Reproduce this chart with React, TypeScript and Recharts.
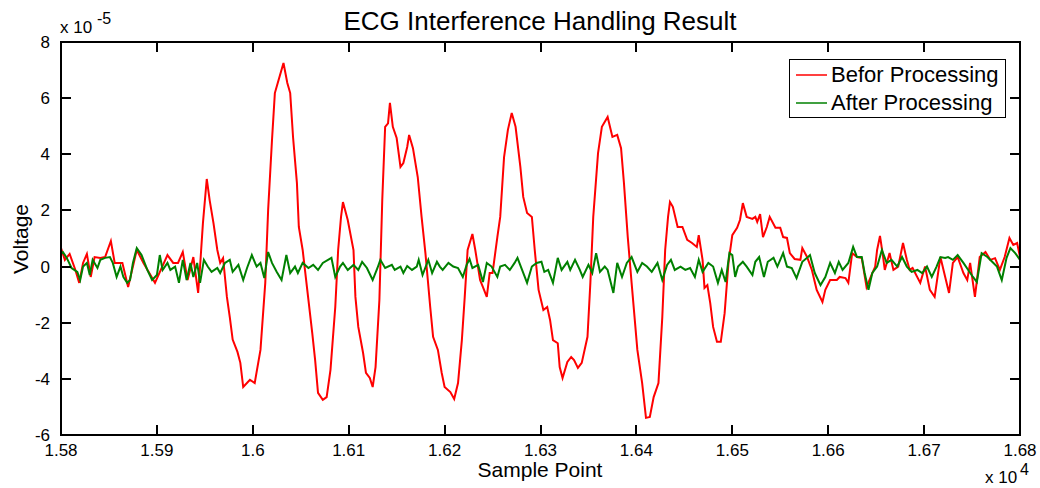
import React from 'react';
import { LineChart, Line, XAxis, YAxis } from 'recharts';

const FONT = '"Liberation Sans", Arial, sans-serif';

const xTicks = [15800, 15900, 16000, 16100, 16200, 16300, 16400, 16500, 16600, 16700, 16800];
const yTicks = [-6, -4, -2, 0, 2, 4, 6, 8];
const xDomain = [15800, 16800];
const yDomain = [-6, 8];

const seriesNames = ['Befor Processing', 'After Processing'];
const seriesColors = ['#ff0000', '#008000'];

// values in units of 1e-5 V, samples in raw index
const beforeSamples = [
  15800, 15804, 15809, 15815, 15819, 15823, 15827, 15831, 15835, 15841, 15846, 15852, 15856, 15864, 15870, 15879, 15886, 15898,
  15911, 15917, 15922, 15927, 15932, 15938, 15943, 15945, 15948, 15952, 15955, 15959, 15963, 15966, 15969, 15973, 15976, 15979,
  15984, 15987, 15990, 15997, 16002, 16008, 16013, 16016, 16020, 16023, 16026, 16032, 16036, 16039, 16042, 16046, 16048, 16052,
  16058, 16062, 16065, 16068, 16073, 16077, 16081, 16086, 16089, 16092, 16094, 16099, 16105, 16107, 16110, 16115, 16118, 16122,
  16125, 16128, 16132, 16135, 16138, 16141, 16143, 16146, 16150, 16154, 16157, 16161, 16163, 16167, 16172, 16176, 16180, 16185,
  16188, 16193, 16197, 16200, 16206, 16210, 16214, 16218, 16221, 16224, 16229, 16232, 16237, 16240, 16244, 16247, 16250, 16255,
  16258, 16262, 16266, 16270, 16274, 16279, 16282, 16286, 16291, 16294, 16298, 16303, 16307, 16310, 16313, 16318, 16320, 16323,
  16328, 16332, 16335, 16339, 16343, 16349, 16352, 16355, 16360, 16364, 16370, 16375, 16380, 16384, 16387, 16391, 16395, 16401,
  16406, 16410, 16414, 16418, 16423, 16427, 16430, 16433, 16435, 16438, 16443, 16448, 16453, 16458, 16463, 16465, 16469, 16471,
  16474, 16477, 16480, 16484, 16488, 16492, 16496, 16500, 16505, 16508, 16511, 16515, 16521, 16524, 16526, 16529, 16532, 16536,
  16539, 16545, 16550, 16553, 16557, 16560, 16565, 16571, 16573, 16578, 16583, 16588, 16594, 16597, 16602, 16609, 16612, 16618,
  16621, 16625, 16630, 16635, 16640, 16646, 16649, 16651, 16654, 16657, 16659, 16664, 16668, 16673, 16678, 16682, 16685, 16688,
  16696, 16701, 16706, 16711, 16717, 16722, 16726, 16730, 16735, 16741, 16745, 16748, 16753, 16758, 16764, 16769, 16774, 16779,
  16784, 16789, 16793, 16797, 16800,
];
const beforeValues = [
  0.66, 0.24, 0.45, -0.12, -0.58, 0.13, 0.45, -0.37, 0.34, 0.31, 0.34, 0.91, 0.13, 0.13, -0.73, 0.59, 0.13, -0.58,
  0.41, 0.13, 0.13, 0.52, -0.48, 0.34, -0.94, 0.0, 1.55, 3.12, 2.37, 1.55, 0.59, 0.13, 0.3, -1.08, -1.8, -2.6,
  -3.04, -3.43, -4.29, -4.03, -4.15, -2.97, -0.58, 2.02, 4.5, 6.18, 6.54, 7.25, 6.54, 6.18, 4.6, 2.98, 1.41, 0.59,
  -1.19, -2.37, -3.33, -4.5, -4.75, -4.65, -3.68, -1.44, 0.59, 1.77, 2.3, 1.66, 0.59, -1.08, -2.15, -3.08, -3.79, -3.97,
  -4.29, -3.58, -1.19, 2.37, 4.98, 5.1, 5.83, 4.98, 4.58, 3.55, 3.69, 4.26, 4.69, 4.22, 3.19, 1.77, 0.48, -1.44,
  -2.5, -2.97, -3.79, -4.29, -4.47, -4.72, -4.15, -2.62, -1.08, 0.59, 1.16, 0.59, -0.48, -0.73, -1.08, -0.23, -0.23, 1.05,
  1.77, 3.9, 4.87, 5.47, 4.98, 3.55, 2.48, 1.91, 1.77, 0.59, -0.83, -1.55, -1.44, -1.91, -2.62, -2.73, -3.58, -3.97,
  -3.4, -3.22, -3.33, -3.61, -3.43, -2.5, -0.58, 1.77, 4.04, 4.98, 5.33, 4.62, 4.69, 4.22, 2.98, 1.05, -0.58, -2.97,
  -4.15, -5.39, -5.36, -4.65, -4.15, -1.8, 0.59, 1.77, 2.3, 2.13, 1.41, 1.41, 0.95, 0.84, 0.7, 1.12, 0.24, -0.76,
  -0.66, -1.3, -2.15, -2.68, -2.68, -1.66, 0.13, 1.12, 1.38, 1.66, 2.26, 1.77, 1.7, 1.77, 1.59, 1.87, 1.05, 1.41,
  1.77, 1.38, 1.38, 1.05, 1.02, 0.48, 0.27, 0.24, 0.66, 0.34, -0.12, -0.83, -1.26, -0.83, -0.48, -0.48, -0.37, -0.41,
  -0.58, 0.48, 0.34, 0.3, -0.73, -0.23, 0.0, 0.59, 1.09, 0.41, -0.12, 0.48, -0.12, 0.0, 0.84, 0.24, -0.12, -0.05,
  -0.58, 0.0, -0.83, -1.08, 0.34, -0.37, -0.94, 0.13, 0.34, -0.23, -0.48, 0.13, -1.08, 0.34, 0.52, 0.24, 0.3, -0.12,
  0.34, 1.02, 0.77, 0.84, 0.34,
];

const afterSamples = [
  15800, 15802, 15806, 15811, 15817, 15820, 15823, 15827, 15830, 15833, 15838, 15841, 15846, 15851, 15854, 15858, 15862, 15865,
  15869, 15872, 15875, 15879, 15884, 15890, 15895, 15900, 15903, 15906, 15911, 15914, 15919, 15923, 15927, 15931, 15935, 15938,
  15942, 15945, 15949, 15953, 15957, 15963, 15966, 15971, 15976, 15979, 15985, 15990, 15994, 15999, 16004, 16008, 16012, 16016,
  16020, 16025, 16030, 16035, 16039, 16044, 16047, 16052, 16058, 16063, 16068, 16073, 16082, 16086, 16091, 16094, 16099, 16105,
  16110, 16114, 16119, 16125, 16130, 16133, 16138, 16145, 16148, 16154, 16157, 16161, 16166, 16171, 16173, 16177, 16183, 16187,
  16192, 16195, 16198, 16204, 16209, 16214, 16219, 16223, 16226, 16229, 16235, 16240, 16244, 16249, 16255, 16258, 16263, 16268,
  16273, 16276, 16280, 16286, 16291, 16296, 16301, 16304, 16308, 16313, 16318, 16322, 16328, 16331, 16336, 16341, 16344, 16350,
  16354, 16358, 16362, 16367, 16370, 16376, 16380, 16385, 16390, 16395, 16401, 16406, 16411, 16416, 16422, 16427, 16432, 16436,
  16440, 16446, 16451, 16456, 16461, 16465, 16469, 16475, 16480, 16485, 16489, 16493, 16497, 16500, 16503, 16506, 16511, 16515,
  16521, 16524, 16528, 16533, 16537, 16543, 16547, 16553, 16557, 16562, 16567, 16573, 16578, 16581, 16586, 16592, 16597, 16602,
  16607, 16611, 16615, 16621, 16626, 16630, 16635, 16638, 16642, 16646, 16651, 16656, 16661, 16666, 16672, 16677, 16682, 16687,
  16693, 16698, 16703, 16708, 16713, 16717, 16722, 16725, 16730, 16735, 16741, 16746, 16751, 16755, 16760, 16766, 16771, 16776,
  16781, 16786, 16790, 16795, 16800,
];
const afterValues = [
  0.48, 0.52, 0.31, -0.05, -0.19, -0.48, 0.0, 0.13, -0.3, 0.24, -0.05, 0.24, 0.31, 0.34, 0.13, -0.37, 0.0, -0.37,
  -0.58, -0.48, 0.13, 0.66, 0.41, -0.12, -0.48, -0.3, 0.41, -0.12, 0.13, -0.12, 0.0, -0.58, 0.24, -0.48, 0.13, -0.37,
  0.13, -0.58, 0.24, 0.0, -0.19, -0.05, -0.23, 0.13, 0.24, -0.19, 0.06, -0.48, -0.05, 0.41, 0.0, 0.13, -0.41, 0.52,
  0.13, -0.19, -0.48, 0.41, -0.23, 0.0, -0.23, 0.13, -0.05, 0.06, -0.12, 0.13, 0.31, -0.37, 0.0, 0.13, -0.12, 0.06,
  -0.12, 0.17, -0.05, -0.48, -0.05, 0.24, -0.05, 0.06, -0.12, 0.0, -0.23, 0.02, -0.12, 0.0, 0.24, -0.3, 0.24, -0.23,
  0.17, 0.0, -0.12, 0.13, 0.0, -0.05, -0.37, 0.06, 0.27, -0.05, 0.06, -0.55, 0.13, 0.0, -0.37, 0.0, 0.06, -0.12,
  0.13, 0.31, -0.05, -0.58, 0.0, 0.13, 0.17, -0.19, -0.12, -0.58, 0.31, -0.12, 0.17, -0.12, 0.24, -0.12, -0.37, 0.06,
  -0.23, 0.48, -0.19, 0.0, -0.12, -0.94, 0.13, -0.37, 0.13, 0.34, -0.19, 0.13, 0.0, -0.19, 0.13, -0.48, 0.06, 0.24,
  -0.12, 0.0, -0.12, -0.05, -0.37, 0.24, -0.19, 0.13, 0.0, -0.58, -0.12, -0.55, 0.48, 0.41, -0.37, 0.0, 0.17, 0.0,
  -0.3, 0.17, 0.34, -0.37, 0.17, 0.31, 0.0, 0.48, 0.0, -0.05, -0.41, 0.17, 0.31, 0.41, -0.23, -0.66, -0.37, 0.13,
  -0.23, 0.17, -0.12, 0.13, 0.7, 0.34, 0.34, -0.23, -0.83, -0.23, 0.0, 0.59, 0.13, 0.24, 0.0, 0.34, 0.0, -0.19,
  -0.12, -0.23, 0.0, -0.37, 0.0, 0.34, 0.31, 0.34, 0.24, 0.41, 0.13, -0.12, -0.37, -0.55, 0.48, 0.34, 0.17, 0.0,
  -0.48, 0.31, 0.66, 0.48, 0.24,
];

const beforeData = beforeSamples.map((s, i) => ({ sample: s, value: beforeValues[i] }));
const afterData = afterSamples.map((s, i) => ({ sample: s, value: afterValues[i] }));

const fmtX = (v: number) => String(v / 10000);
const TICK_LEN = 10;

// plot frame geometry (chart margins + axis sizes)
const W = 1040;
const H = 488;
const PLOT_L = 61;
const PLOT_R = 1020;
const PLOT_T = 42;
const PLOT_B = 435;
const px = (v: number) => PLOT_L + ((v - xDomain[0]) / (xDomain[1] - xDomain[0])) * (PLOT_R - PLOT_L);
const py = (v: number) => PLOT_B - ((v - yDomain[0]) / (yDomain[1] - yDomain[0])) * (PLOT_B - PLOT_T);

const BottomTick = (props: any) => {
  const { x, y, payload } = props;
  return (
    <text x={x} y={y + 21} textAnchor="middle" fontFamily={FONT} fontSize={17} fill="#000">
      {fmtX(payload.value)}
    </text>
  );
};

const LeftTick = (props: any) => {
  const { x, y, payload } = props;
  return (
    <text x={x - 11} y={y + 6} textAnchor="end" fontFamily={FONT} fontSize={17} fill="#000">
      {String(payload.value)}
    </text>
  );
};

const LegendBox = () => (
  <div
    style={{
      position: 'absolute',
      left: 789,
      top: 59,
      width: 217,
      height: 59,
      border: '1px solid #000',
      background: '#fff',
      boxSizing: 'border-box',
      fontFamily: FONT,
      fontSize: 22,
      color: '#000',
    }}
  >
    {seriesNames.map((name, i) => (
      <div key={name} style={{ position: 'absolute', left: 6, top: 2 + i * 28, height: 26, display: 'flex', alignItems: 'center' }}>
        <svg width={31} height={4} style={{ display: 'block' }}>
          <line x1={0} y1={2} x2={31} y2={2} stroke={seriesColors[i]} strokeWidth={1.5} />
        </svg>
        <span style={{ marginLeft: 4, whiteSpace: 'nowrap', lineHeight: '26px' }}>{name}</span>
      </div>
    ))}
  </div>
);

const bar = (left: number, top: number, width: number, height: number, key: string) => (
  <div key={key} style={{ position: 'absolute', left, top, width, height, background: '#000' }} />
);

const Frame = () => (
  <div style={{ position: 'absolute', left: 0, top: 0, width: W, height: H, pointerEvents: 'none' }}>
    <div
      style={{
        position: 'absolute',
        left: PLOT_L - 1,
        top: PLOT_T - 1,
        width: PLOT_R - PLOT_L + 2,
        height: PLOT_B - PLOT_T + 2,
        border: '2px solid #000',
        boxSizing: 'border-box',
      }}
    />
    {xTicks.map((t) => bar(Math.round(px(t)) - 1, PLOT_B - TICK_LEN, 2, TICK_LEN, `b${t}`))}
    {xTicks.map((t) => bar(Math.round(px(t)) - 1, PLOT_T, 2, TICK_LEN, `t${t}`))}
    {yTicks.map((t) => bar(PLOT_L, Math.round(py(t)) - 1, TICK_LEN, 2, `l${t}`))}
    {yTicks.map((t) => bar(PLOT_R - TICK_LEN, Math.round(py(t)) - 1, TICK_LEN, 2, `r${t}`))}
  </div>
);

export default function App() {
  return (
    <div style={{ position: 'absolute', left: 0, top: 0, width: W, height: H, background: '#fff' }}>
      <LineChart width={W} height={H} margin={{ top: PLOT_T, right: W - PLOT_R, bottom: 0, left: 0 }}>
        <XAxis xAxisId="bottom" dataKey="sample" type="number" orientation="bottom" domain={xDomain} allowDataOverflow
          ticks={xTicks} height={H - PLOT_B} tickSize={0} tickMargin={0} axisLine={false} tickLine={false} tick={<BottomTick />} interval={0} />
        <YAxis yAxisId="left" type="number" orientation="left" domain={yDomain} allowDataOverflow ticks={yTicks} width={PLOT_L}
          tickSize={0} tickMargin={0} axisLine={false} tickLine={false} tick={<LeftTick />} interval={0} />
        <Line xAxisId="bottom" yAxisId="left" data={beforeData} dataKey="value" name={seriesNames[0]} type="linear"
          stroke={seriesColors[0]} strokeWidth={2} dot={false} isAnimationActive={false} />
        <Line xAxisId="bottom" yAxisId="left" data={afterData} dataKey="value" name={seriesNames[1]} type="linear"
          stroke={seriesColors[1]} strokeWidth={2} dot={false} isAnimationActive={false} />
      </LineChart>
      <Frame />
      <svg width={W} height={H} style={{ position: 'absolute', left: 0, top: 0, pointerEvents: 'none' }}>
        <g fontFamily="Liberation Sans, Arial, sans-serif" fill="#000">
          <text x={540} y={30} textAnchor="middle" fontSize={26}>
            ECG Interference Handling Result
          </text>
          <text x={28} y={239} textAnchor="middle" fontSize={21} transform="rotate(-90 28 239)">
            Voltage
          </text>
          <text x={540} y={477} textAnchor="middle" fontSize={21}>
            Sample Point
          </text>
          <text x={60} y={33} fontSize={17}>
            x 10
          </text>
          <text x={97} y={24} fontSize={16}>
            -5
          </text>
          <text x={985} y={483} fontSize={17}>
            x 10
          </text>
          <text x={1020} y={475} fontSize={16}>
            4
          </text>
        </g>
      </svg>
      <LegendBox />
    </div>
  );
}
